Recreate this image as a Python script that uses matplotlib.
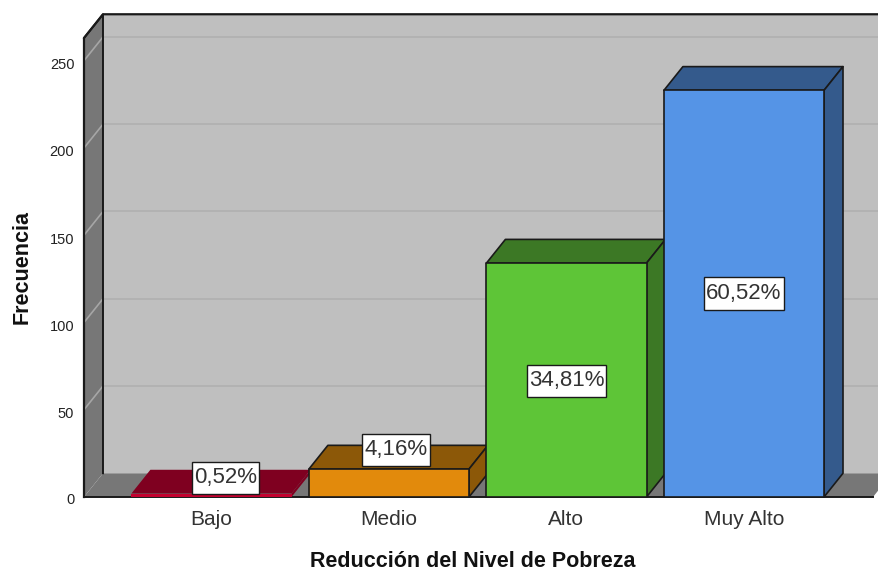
import matplotlib
matplotlib.use("Agg")
import matplotlib.pyplot as plt
from matplotlib.patches import Polygon
from matplotlib.path import Path
from matplotlib.transforms import ScaledTranslation

plt.rcParams["font.family"] = ["Liberation Sans", "DejaVu Sans"]

categories = ["Bajo", "Medio", "Alto", "Muy Alto"]
counts = [2, 16, 134, 233]
pct_labels = ["0,52%", "4,16%", "34,81%", "60,52%"]
y_ticks = [0, 50, 100, 150, 200, 250]

front_colors = ["#C4002F", "#E28A0C", "#5EC537", "#5594E6"]
dark_colors = ["#7F0020", "#8C5808", "#3C7825", "#345A8C"]
edge = "#1A1A1A"

# depth of the fake 3d box, in data units
dx = 0.107
dy = 13.6
bar_w = 0.902
x0, x1 = -0.718, 3.727
y_top = 263

fig = plt.figure(figsize=(8.79, 5.71), dpi=100)
ax = fig.add_axes([84 / 879, 74 / 571, 789 / 879, 459 / 571])
ax.set_xlim(x0, x1)
ax.set_ylim(0, y_top)
for s in ax.spines.values():
    s.set_visible(False)
ax.patch.set_visible(False)


def poly(pts, fc, ec=edge, lw=1.2, z=2):
    ax.add_patch(Polygon(pts, closed=True, facecolor=fc, edgecolor=ec,
                         linewidth=lw, zorder=z, clip_on=False, joinstyle="round"))


# label box is much taller than wide-padded, so a square style won't do
def label_box(x, y, w, h, mutation_size):
    px, py = 3.0 * 0.72, 8.0 * 0.72
    l, r, b, t = x - px, x + w + px, y - py, y + h + py
    return Path([(l, b), (r, b), (r, t), (l, t), (l, b)], closed=True)


# walls and floor
poly([(x0 + dx, dy), (x1 + dx, dy), (x1 + dx, y_top + dy), (x0 + dx, y_top + dy)],
     "#BFBFBF", ec="none", z=1)
poly([(x0, 0), (x0 + dx, dy), (x0 + dx, y_top + dy), (x0, y_top)], "#777777", ec="none", z=1)
poly([(x0, 0), (x1, 0), (x1 + dx, dy), (x0 + dx, dy)], "#777777", ec="none", z=1)

for t in y_ticks[1:]:
    ax.plot([x0, x0 + dx], [t, t + dy], color="#A6A6A6", lw=1.2, zorder=1.5, clip_on=False)
    ax.plot([x0 + dx, x1 + dx], [t + dy, t + dy], color="#B0B0B0", lw=1.2, zorder=1.5, clip_on=False)

# box outline
ax.plot([x0, x0, x0 + dx, x1 + dx], [0, y_top, y_top + dy, y_top + dy],
        color=edge, lw=1.6, zorder=1.7, clip_on=False)
ax.plot([x0, x0 + dx, x0 + dx], [y_top, y_top + dy, dy], color=edge, lw=1.4, zorder=1.7, clip_on=False)
ax.plot([x0, x1], [0, 0], color=edge, lw=1.4, zorder=1.7, clip_on=False)

# bars
for i, v in enumerate(counts):
    l, r = i - bar_w / 2, i + bar_w / 2
    line = "none" if v < 5 else edge
    poly([(l, v), (r, v), (r + dx, v + dy), (l + dx, v + dy)], dark_colors[i], ec=line, z=3 + i)
    poly([(r, 0), (r + dx, dy), (r + dx, v + dy), (r, v)], dark_colors[i], ec=line, z=3 + i)
    poly([(l, 0), (r, 0), (r, v), (l, v)], front_colors[i], ec=line, z=3 + i)

# percent labels, sitting mid-bar (small bars get pushed up and over)
label_dx = [0.08, 0.04, 0, 0]
label_y = [11, 27, 66.5, 116.5]
for i, txt in enumerate(pct_labels):
    ax.text(i + label_dx[i], label_y[i], txt, ha="center", va="center", fontsize=16,
            color="#333333", zorder=10,
            bbox=dict(boxstyle=label_box, facecolor="white", edgecolor=edge, linewidth=1))

ax.set_xticks(range(len(categories)))
ax.set_xticklabels(categories, fontsize=15, color="#333333")
ax.set_yticks(y_ticks)
ax.set_yticklabels([str(t) for t in y_ticks], fontsize=10.5, color="#222222")
ax.tick_params(axis="both", length=0)
ax.tick_params(axis="x", pad=9.5)
ax.tick_params(axis="y", pad=7)

# tick numbers sit a little under their gridline in the original
for t, lab in zip(y_ticks, ax.get_yticklabels()):
    shift = 1 if t == 0 else 3
    lab.set_transform(lab.get_transform() + ScaledTranslation(0, -shift / 100, fig.dpi_scale_trans))

ax.set_xlabel("Reducción del Nivel de Pobreza", fontsize=15.5, fontweight="bold", labelpad=15.5, color="#111111")
ax.xaxis.label.set_x(0.4924)
ax.set_ylabel("Frecuencia", fontsize=15.5, fontweight="bold", labelpad=12.5, color="#111111")

fig.savefig("out.png", dpi=100)
